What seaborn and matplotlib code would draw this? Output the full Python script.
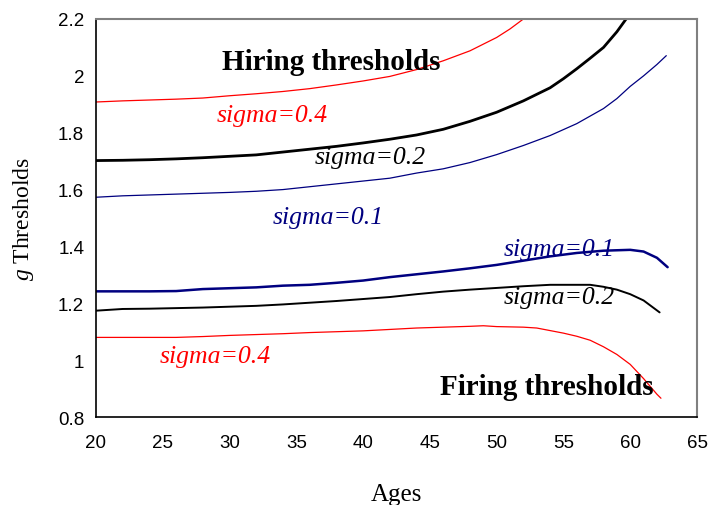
import numpy as np
import pandas as pd
import matplotlib
matplotlib.use('Agg')
import matplotlib.pyplot as plt
import seaborn as sns

# hiring thresholds
hire_age_04 = [20, 22, 24, 26, 28, 30, 32, 34, 36, 38, 40, 42, 44, 46, 48, 50, 51, 52, 53]
hire_04 = [1.908, 1.912, 1.915, 1.918, 1.922, 1.930, 1.937, 1.945, 1.955, 1.968, 1.982,
           1.998, 2.022, 2.053, 2.088, 2.135, 2.165, 2.200, 2.240]
hire_age_02 = [20, 22, 24, 26, 28, 30, 32, 34, 36, 38, 40, 42, 44, 46, 48, 50, 52, 54, 55,
               56, 57, 58, 59, 60, 60.5]
hire_02 = [1.702, 1.703, 1.705, 1.708, 1.712, 1.717, 1.722, 1.732, 1.742, 1.752, 1.764,
           1.777, 1.792, 1.812, 1.840, 1.872, 1.912, 1.958, 1.990, 2.025, 2.062, 2.100,
           2.155, 2.220, 2.260]
hire_age_01 = [20, 22, 24, 26, 28, 30, 32, 34, 36, 38, 40, 42, 44, 46, 48, 50, 52, 54, 56,
               58, 59, 60, 61, 62, 62.7]
hire_01 = [1.573, 1.578, 1.581, 1.584, 1.587, 1.590, 1.594, 1.600, 1.610, 1.620, 1.630,
           1.640, 1.658, 1.673, 1.695, 1.723, 1.755, 1.790, 1.832, 1.885, 1.920, 1.963,
           2.000, 2.040, 2.071]

# firing thresholds
fire_age_01 = [20, 22, 24, 26, 28, 30, 32, 34, 36, 38, 40, 42, 44, 46, 48, 50, 52, 54, 56,
               58, 60, 61, 62, 62.8]
fire_01 = [1.242, 1.242, 1.242, 1.243, 1.250, 1.253, 1.256, 1.262, 1.265, 1.272, 1.280,
           1.292, 1.302, 1.312, 1.323, 1.335, 1.350, 1.365, 1.377, 1.385, 1.388, 1.382,
           1.360, 1.327]
fire_age_02 = [20, 22, 24, 26, 28, 30, 32, 34, 36, 38, 40, 42, 44, 46, 48, 50, 52, 54, 56,
               57, 58, 59, 60, 61, 62.2]
fire_02 = [1.174, 1.180, 1.181, 1.183, 1.185, 1.188, 1.191, 1.196, 1.202, 1.208, 1.215,
           1.222, 1.232, 1.241, 1.248, 1.254, 1.260, 1.265, 1.265, 1.265, 1.258, 1.248,
           1.232, 1.210, 1.168]
fire_age_04 = [20, 22, 24, 26, 28, 30, 32, 34, 36, 38, 40, 42, 44, 46, 48, 49, 50, 52, 53,
               54, 55, 56, 57, 58, 59, 60, 61, 62, 62.3]
fire_04 = [1.080, 1.080, 1.080, 1.080, 1.083, 1.087, 1.090, 1.093, 1.097, 1.100, 1.103,
           1.108, 1.113, 1.116, 1.119, 1.121, 1.118, 1.116, 1.113, 1.104, 1.095, 1.084,
           1.070, 1.047, 1.020, 0.985, 0.935, 0.880, 0.866]

sns.set_style('white')
plt.rcParams['font.family'] = ['Liberation Sans', 'DejaVu Sans']
plt.rcParams['text.color'] = 'black'
plt.rcParams['axes.labelcolor'] = 'black'
plt.rcParams['mathtext.fontset'] = 'custom'
plt.rcParams['mathtext.it'] = 'Liberation Serif:italic'

fig = plt.figure(figsize=(7.1, 5.06), dpi=100)
ax = fig.add_axes([0.1352, 0.1739, 0.8465, 0.7866])

red = '#ff0000'
blue = '#000080'
sns.lineplot(x=hire_age_04, y=hire_04, color=red, lw=0.9, ax=ax)
sns.lineplot(x=hire_age_02, y=hire_02, color='black', lw=2.0, ax=ax)
sns.lineplot(x=hire_age_01, y=hire_01, color=blue, lw=0.9, ax=ax)
sns.lineplot(x=fire_age_01, y=fire_01, color=blue, lw=1.8, ax=ax)
sns.lineplot(x=fire_age_02, y=fire_02, color='black', lw=1.4, ax=ax)
sns.lineplot(x=fire_age_04, y=fire_04, color=red, lw=0.9, ax=ax)

ax.set_xlim(20, 65)
ax.set_ylim(0.8, 2.2)
ax.set_xticks(range(20, 66, 5))
ax.set_yticks([0.8, 1.0, 1.2, 1.4, 1.6, 1.8, 2.0, 2.2])
ax.set_yticklabels(['0.8', '1', '1.2', '1.4', '1.6', '1.8', '2', '2.2'])
ax.tick_params(direction='inout', length=7, width=1, labelsize=13.5, colors='black')
ax.tick_params(axis='x', pad=9)
ax.tick_params(axis='y', pad=5)

for s in ['left', 'bottom']:
    ax.spines[s].set_color('black')
    ax.spines[s].set_linewidth(1.2)
for s in ['top', 'right']:
    ax.spines[s].set_color('#808080')
    ax.spines[s].set_linewidth(1.5)

serif = ['Liberation Serif', 'DejaVu Serif']
ax.set_xlabel('Ages', family=serif, fontsize=18, labelpad=23)
ax.set_ylabel('$g$ Thresholds', family=serif, fontsize=17, labelpad=16)

ax.text(29.4, 2.052, 'Hiring thresholds', family=serif, fontsize=21, fontweight='bold',
        va='center', ha='left')
ax.text(45.75, 0.906, 'Firing thresholds', family=serif, fontsize=21, fontweight='bold',
        va='center', ha='left')

lab = dict(family=serif, fontsize=18.5, style='italic', va='center', ha='left')
ax.text(29.05, 1.862, 'sigma=0.4', color=red, **lab)
ax.text(36.4, 1.715, 'sigma=0.2', color='black', **lab)
ax.text(33.2, 1.503, 'sigma=0.1', color=blue, **lab)
ax.text(50.5, 1.391, 'sigma=0.1', color=blue, **lab)
ax.text(50.5, 1.222, 'sigma=0.2', color='black', **lab)
ax.text(24.8, 1.015, 'sigma=0.4', color=red, **lab)

fig.savefig('out.png', dpi=100)
